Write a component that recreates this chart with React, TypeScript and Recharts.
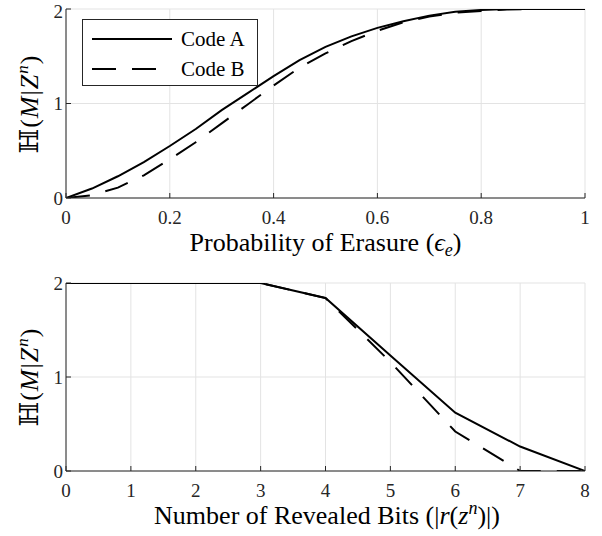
import { LineChart, Line, XAxis, YAxis, CartesianGrid, Legend } from "recharts";

// top panel: entropy vs probability of erasure
const erasure = [0, 0.05, 0.1, 0.15, 0.2, 0.25, 0.3, 0.35, 0.4, 0.45, 0.5, 0.55, 0.6, 0.65, 0.7, 0.75, 0.8, 0.85, 0.9, 0.95, 1];
const codeAErasure = [0, 0.1, 0.23, 0.38, 0.55, 0.73, 0.93, 1.11, 1.29, 1.46, 1.6, 1.71, 1.8, 1.87, 1.93, 1.97, 1.99, 2, 2, 2, 2];
const codeBErasure = [0, 0.03, 0.11, 0.24, 0.41, 0.59, 0.79, 0.99, 1.19, 1.38, 1.53, 1.66, 1.77, 1.86, 1.92, 1.96, 1.98, 1.995, 2, 2, 2];
const erasureTicks = [0, 0.2, 0.4, 0.6, 0.8, 1];

// bottom panel: entropy vs number of revealed bits
const revealed = [0, 1, 2, 3, 4, 5, 6, 7, 8];
const codeARevealed = [2, 2, 2, 2, 1.84, 1.23, 0.62, 0.26, 0];
const codeBRevealed = [2, 2, 2, 2, 1.84, 1.16, 0.42, 0, 0];
const revealedTicks = [0, 1, 2, 3, 4, 5, 6, 7, 8];

const entropyTicks = [0, 1, 2];

const seriesNames = { a: "Code A", b: "Code B" };
const seriesDash: Record<string, string | undefined> = { a: undefined, b: "24 16" };

const topData = erasure.map((x, i) => ({ x, a: codeAErasure[i], b: codeBErasure[i] }));
const bottomData = revealed.map((x, i) => ({ x, a: codeARevealed[i], b: codeBRevealed[i] }));

const FONT = "Liberation Serif, Tinos, Times New Roman, Times, DejaVu Serif, serif";
const AXIS = "#262626";
const GRID = "#e3e3e3";
const tickStyle = { fontSize: 19, fill: AXIS, fontFamily: FONT };

function LegendBox({ payload }: { payload?: { value: string; dataKey?: string }[] }) {
  if (!payload?.length) return null;
  return (
    <svg width={176} height={67} style={{ display: "block" }}>
      <rect x={0.5} y={0.5} width={175} height={66} fill="#fff" stroke={AXIS} />
      {payload.map((p, i) => (
        <g key={p.value}>
          <line
            x1={10}
            x2={90}
            y1={20 + i * 30}
            y2={20 + i * 30}
            stroke="#000"
            strokeWidth={2}
            strokeDasharray={seriesDash[String(p.dataKey)]}
          />
          <text x={99} y={27 + i * 30} fontSize={21} fontFamily={FONT} fill="#000">
            {p.value}
          </text>
        </g>
      ))}
    </svg>
  );
}

function Panel({
  data,
  xTicks,
  top,
  bottom,
  legend,
}: {
  data: { x: number; a: number; b: number }[];
  xTicks: number[];
  top: number;
  bottom: number;
  legend?: boolean;
}) {
  const xDomain = [xTicks[0], xTicks[xTicks.length - 1]];
  return (
    <LineChart width={602} height={268} data={data} margin={{ top, right: 17, left: 36, bottom }} style={{ fontFamily: FONT }}>
      <CartesianGrid stroke={GRID} />
      <XAxis
        dataKey="x"
        type="number"
        domain={xDomain}
        ticks={xTicks}
        allowDataOverflow
        height={30}
        stroke={AXIS}
        tickSize={-5}
        tickMargin={18}
        tick={tickStyle}
      />
      <XAxis
        xAxisId="top"
        orientation="top"
        dataKey="x"
        type="number"
        domain={xDomain}
        ticks={xTicks}
        allowDataOverflow
        height={0}
        stroke={AXIS}
        tickSize={-5}
        tick={false}
      />
      <YAxis
        type="number"
        domain={[0, 2]}
        ticks={entropyTicks}
        allowDataOverflow
        width={30}
        stroke={AXIS}
        tickSize={-5}
        tickMargin={8}
        tick={tickStyle}
      />
      <YAxis
        yAxisId="right"
        orientation="right"
        type="number"
        domain={[0, 2]}
        ticks={entropyTicks}
        allowDataOverflow
        width={0}
        stroke={AXIS}
        tickSize={-5}
        tick={false}
      />
      {legend && (
        <Legend
          layout="horizontal"
          verticalAlign="middle"
          align="center"
          wrapperStyle={{ left: 82, top: 19, width: 176, height: 67 }}
          content={(props: any) => <LegendBox payload={props.payload} />}
        />
      )}
      <Line
        dataKey="a"
        name={seriesNames.a}
        type="linear"
        stroke="#000"
        strokeWidth={2}
        dot={false}
        isAnimationActive={false}
      />
      <Line
        dataKey="b"
        name={seriesNames.b}
        type="linear"
        stroke="#000"
        strokeWidth={2}
        strokeDasharray={seriesDash.b}
        dot={false}
        isAnimationActive={false}
      />
    </LineChart>
  );
}

function YLabel({ cx, cy }: { cx: number; cy: number }) {
  return (
    <text transform={`translate(${cx}, ${cy}) rotate(-90)`} textAnchor="middle" fontSize={26} fontFamily={FONT} fill="#000" letterSpacing={1}>
      ℍ(<tspan fontStyle="italic">M</tspan>|<tspan fontStyle="italic">Z</tspan>
      <tspan fontStyle="italic" fontSize={17} dy={-10}>n</tspan>
      <tspan dy={10}>)</tspan>
    </text>
  );
}

export default function App() {
  return (
    <div style={{ position: "absolute", left: 0, top: 0, width: 602, height: 536, background: "#fff", fontFamily: FONT }}>
      <div style={{ position: "absolute", left: 0, top: 0 }}>
        <Panel data={topData} xTicks={erasureTicks} top={9} bottom={40} legend />
      </div>
      <div style={{ position: "absolute", left: 0, top: 268 }}>
        <Panel data={bottomData} xTicks={revealedTicks} top={15} bottom={35} />
      </div>
      <svg width={602} height={536} style={{ position: "absolute", left: 0, top: 0, pointerEvents: "none" }}>
        <YLabel cx={38} cy={104} />
        <YLabel cx={38} cy={377} />
        <text x={325.5} y={251} textAnchor="middle" fontSize={26} fontFamily={FONT} fill="#000">
          Probability of Erasure (<tspan fontStyle="italic">ϵ</tspan>
          <tspan fontStyle="italic" fontSize={18} dy={5}>e</tspan>
          <tspan dy={-5}>)</tspan>
        </text>
        <text x={327} y={524} textAnchor="middle" fontSize={26} fontFamily={FONT} fill="#000">
          Number of Revealed Bits (|<tspan fontStyle="italic">r</tspan>(<tspan fontStyle="italic">z</tspan>
          <tspan fontStyle="italic" fontSize={18} dy={-10}>n</tspan>
          <tspan dy={10}>)|)</tspan>
        </text>
      </svg>
    </div>
  );
}
